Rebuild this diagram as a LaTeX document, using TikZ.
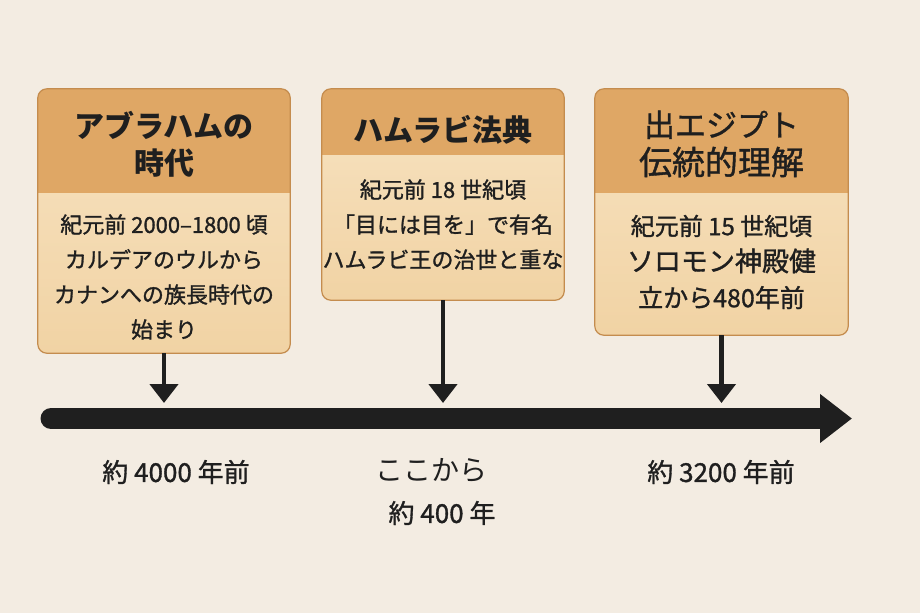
\documentclass[tikz,border=0pt]{standalone}
\usepackage{fontspec}
\setmainfont{Noto Sans CJK JP}
\newfontfamily\mediumjp{Noto Sans CJK JP}[FakeBold=1.2]
\usetikzlibrary{arrows.meta,positioning}

\definecolor{paper}{HTML}{F3ECE2}
\definecolor{headtan}{HTML}{DFA765}
\definecolor{bodylight}{HTML}{F7E3C2}
\definecolor{bodydark}{HTML}{F1D3A4}
\definecolor{edgetan}{HTML}{C48C4E}
\definecolor{ink}{HTML}{1F1F1F}

\tikzset{
    eventbox/.style={rectangle, rounded corners=9pt, top color=bodylight, bottom color=bodydark, inner sep=0pt},
    headtext/.style={align=center, text=ink, font=\bfseries\fontsize{30}{37}\selectfont},
    bodytext/.style={align=center, text=ink, font=\mediumjp\fontsize{22}{35}\selectfont},
    yearlabel/.style={text=ink, font=\mediumjp\fontsize{26}{30}\selectfont},
}

\begin{document}
\begin{tikzpicture}[x=1pt, y=-1pt]

    \fill[paper] (0,0) rectangle (920,613);
    \useasboundingbox (0,0) rectangle (920,613);

    % boxes
    \node[eventbox, minimum width=252pt, minimum height=264pt] (abraham) at (164,221) {};
    \node[eventbox, minimum width=242pt, minimum height=211pt] (hammurabi) at (443,194.5) {};
    \node[eventbox, minimum width=253pt, minimum height=246pt] (exodus) at (721.5,212) {};

    \foreach \n/\h in {abraham/104, hammurabi/66, exodus/104} {
        \begin{scope}
            \clip[rounded corners=9pt] (\n.south west) rectangle (\n.north east);
            \fill[headtan] (\n.north west) rectangle ([yshift=-\h pt]\n.north east);
        \end{scope}
        \draw[edgetan, line width=1.2pt, rounded corners=9pt] (\n.south west) rectangle (\n.north east);
    }

    \node[headtext] (abrahamhead) at (164,144) {アブラハムの\\時代};
    \node[headtext] (hammurabihead) at (443,130) {ハムラビ法典};
    \node[headtext, font=\mediumjp\fontsize{31}{38}\selectfont] (exodushead) at (721.5,144) {出エジプト\\{\fontsize{33}{38}\selectfont 伝統的理解}};

    \node[bodytext] (abrahambody) at (164,277) {紀元前 2000–1800 頃\\カルデアのウルから\\カナンへの族長時代の\\始まり};
    \node[bodytext] (hammurabibody) at (443,224.5) {紀元前 18 世紀頃\\「目には目を」で有名\\ハムラビ王の治世と重な};
    \node[bodytext, font=\mediumjp\fontsize{24}{36}\selectfont] (exodusbody) at (721.5,262) {紀元前 15 世紀頃\\{\fontsize{27}{36}\selectfont ソロモン神殿健}\\{\fontsize{25}{36}\selectfont 立から480年前}};

    % timeline
    \coordinate (tstart) at (51,418.5);
    \coordinate (tend) at (852,418.5);
    \draw[ink, line width=21pt, line cap=round, -{Triangle[length=32pt,width=47pt]}] (tstart) -- (tend);

    \coordinate (abrahamtick) at (164,403);
    \coordinate (hammurabitick) at (443,403);
    \coordinate (exodustick) at (721.5,403);
    \foreach \n in {abraham, hammurabi, exodus}
        \draw[ink, line width=4.5pt, -{Triangle[length=19pt,width=28pt]}] (\n.south) -- (\n tick);

    % labels
    \node[yearlabel] (ago4000) at (176,472) {約 4000 年前};
    \node[yearlabel, font=\fontsize{28}{30}\selectfont] (fromhere) at (431,470) {ここから};
    \node[yearlabel] (span400) at (442,513) {約 400 年};
    \node[yearlabel] (ago3200) at (721,472) {約 3200 年前};

\end{tikzpicture}
\end{document}
